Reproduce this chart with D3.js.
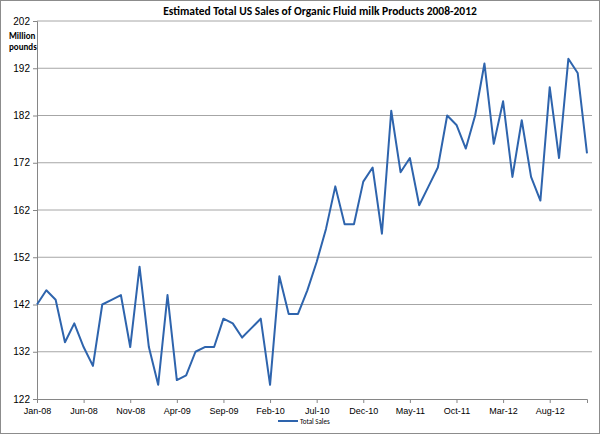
<!DOCTYPE html>
<html><head><meta charset="utf-8">
<script src="https://cdn.jsdelivr.net/npm/d3@7"></script>
<style>body{margin:0;background:#fff}svg{font-family:Calibri,"Liberation Sans",Arial,sans-serif}</style>
</head><body>
<svg id="chart" width="600" height="434"></svg>
<script>
// monthly totals, Jan-08 .. Dec-12 (million pounds)
const sales = [142,145,143,134,138,133,129,142,143,144,133,150,133,125,144,126,127,132,133,133,
  139,138,135,137,139,125,148,140,140,145,151,158,167,159,159,168,171,157,183,170,
  173,163,167,171,182,180,175,182,193,176,185,169,181,169,164,188,173,194,191,174];
const tickMonths = [0,5,10,15,20,25,30,35,40,45,50,55];
const tickLabels = ["Jan-08","Jun-08","Nov-08","Apr-09","Sep-09","Feb-10","Jul-10","Dec-10","May-11","Oct-11","Mar-12","Aug-12"];
const yTicks = [122,132,142,152,162,172,182,192,202];

const svg = d3.select("#chart");
svg.append("rect").attr("x",0.5).attr("y",0.5).attr("width",599).attr("height",433)
  .attr("fill","#fff").attr("stroke","#8c8c8c");

const x = d3.scaleLinear().domain([0,59]).range([37,587]);
const y = d3.scaleLinear().domain([122,202]).range([399,21]);

// gridlines
svg.append("g").selectAll("line").data(yTicks.slice(1)).join("line")
  .attr("x1",37).attr("x2",592).attr("y1",d=>y(d)).attr("y2",d=>y(d))
  .attr("stroke","#a6a6a6").attr("stroke-width",1);

// y axis
const ya = svg.append("g").attr("transform","translate(37,0)")
  .call(d3.axisLeft(y).tickValues(yTicks).tickSize(4).tickFormat(d3.format("d")));
ya.select(".domain").attr("stroke","#868686");
ya.selectAll(".tick line").attr("stroke","#868686");
ya.selectAll("text").attr("font-size",10).attr("fill","#000");

// x axis
const xa = svg.append("g").attr("transform","translate(0,399)")
  .call(d3.axisBottom(x).tickValues(tickMonths).tickSize(4).tickFormat((d,i)=>tickLabels[i]));
xa.select(".domain").attr("stroke","#868686");
xa.selectAll(".tick line").attr("stroke","#868686");
xa.selectAll("text").attr("font-size",9).attr("fill","#000").attr("dy","0.9em");

// series
svg.append("path").datum(sales)
  .attr("d", d3.line().x((d,i)=>x(i)).y(d=>y(d)))
  .attr("fill","none").attr("stroke","#2e64ad").attr("stroke-width",2).attr("stroke-linejoin","round");

// title and unit
svg.append("text").attr("x",320).attr("y",15).attr("text-anchor","middle")
  .attr("font-size",11.5).attr("font-weight","bold").text("Estimated Total US Sales of Organic Fluid milk Products 2008-2012");
svg.append("text").attr("x",9).attr("y",39).attr("font-size",9).attr("font-weight","bold").text("Million");
svg.append("text").attr("x",9).attr("y",50).attr("font-size",9).attr("font-weight","bold").text("pounds");

// legend
svg.append("line").attr("x1",278).attr("x2",298).attr("y1",421).attr("y2",421)
  .attr("stroke","#2e64ad").attr("stroke-width",2);
svg.append("text").attr("x",300).attr("y",423.5).attr("font-size",7).text("Total Sales");
</script>
</body></html>
